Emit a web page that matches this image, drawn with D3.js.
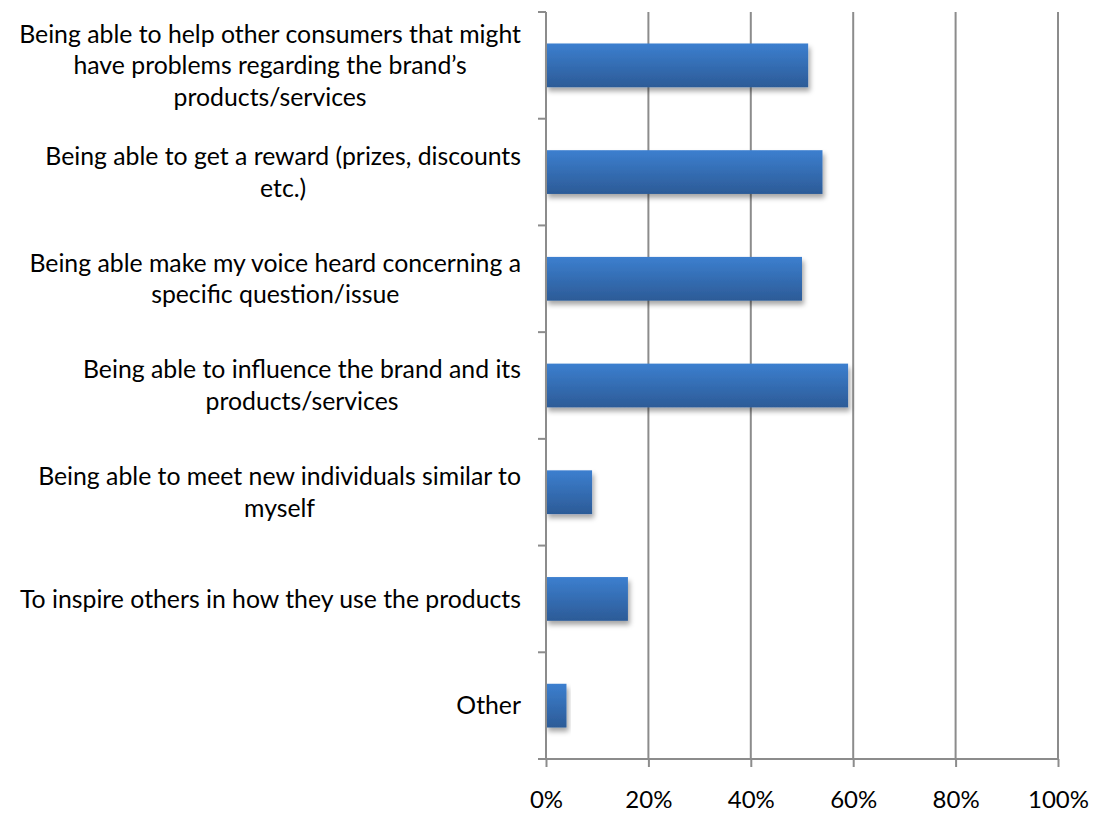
<!DOCTYPE html>
<html>
<head>
<meta charset="utf-8">
<script src="https://cdn.jsdelivr.net/npm/d3@7"></script>
<style>
  body { margin: 0; background: #fff; }
  text { font-family: Lato, "Open Sans", sans-serif; fill: #000; }
</style>
</head>
<body>
<div id="chart"></div>
<script>
// categories, one array of lines per label (top to bottom)
var categories = [
  ["Being able to help other consumers that might", "have problems regarding the brand\u2019s", "products/services"],
  ["Being able to get a reward (prizes, discounts", "etc.)"],
  ["Being able make my voice heard concerning a", "specific question/issue"],
  ["Being able to influence the brand and its", "products/services"],
  ["Being able to meet new individuals similar to", "myself"],
  ["To inspire others in how they use the products"],
  ["Other"]
];
var values = [0.512, 0.54, 0.50, 0.59, 0.09, 0.16, 0.04];
var tickValues = [0, 0.2, 0.4, 0.6, 0.8, 1.0];

var width = 1093, height = 814;
var margin = {top: 12, right: 35, bottom: 55, left: 546};

var svg = d3.select("#chart")
  .append("svg")
  .attr("width", width)
  .attr("height", height);

var defs = svg.append("defs");
var grad = defs.append("linearGradient")
  .attr("id", "barGrad")
  .attr("x1", 0).attr("y1", 0).attr("x2", 0).attr("y2", 1);
grad.append("stop").attr("offset", "0%").attr("stop-color", "#3c7fcf");
grad.append("stop").attr("offset", "100%").attr("stop-color", "#2c5b97");

var shadow = defs.append("filter")
  .attr("id", "shadow")
  .attr("x", "-10%").attr("y", "-20%").attr("width", "130%").attr("height", "160%");
shadow.append("feDropShadow")
  .attr("dx", 2).attr("dy", 4).attr("stdDeviation", 2.5)
  .attr("flood-color", "#000").attr("flood-opacity", 0.35);

var x = d3.scaleLinear()
  .domain([0, 1])
  .range([margin.left, width - margin.right]);

var y = d3.scaleBand()
  .domain(d3.range(categories.length))
  .range([margin.top, height - margin.bottom])
  .paddingInner(0.59)
  .paddingOuter(0.295);

var plotBottom = height - margin.bottom;

// vertical gridlines
svg.append("g")
  .selectAll("line")
  .data(tickValues.slice(1))
  .enter()
  .append("line")
  .attr("x1", function (d) { return x(d); })
  .attr("x2", function (d) { return x(d); })
  .attr("y1", margin.top)
  .attr("y2", plotBottom)
  .attr("stroke", "#8c8c8c")
  .attr("stroke-width", 2);

// bars
svg.append("g")
  .selectAll("rect")
  .data(values)
  .enter()
  .append("rect")
  .attr("x", x(0))
  .attr("y", function (d, i) { return y(i); })
  .attr("width", function (d) { return x(d) - x(0); })
  .attr("height", y.bandwidth())
  .attr("fill", "url(#barGrad)")
  .attr("filter", "url(#shadow)");

// x axis
var xAxis = d3.axisBottom(x)
  .tickValues(tickValues)
  .tickFormat(d3.format(".0%"))
  .tickSize(8)
  .tickPadding(24);
var gx = svg.append("g")
  .attr("transform", "translate(0," + plotBottom + ")")
  .call(xAxis);
gx.select(".domain").attr("stroke", "#8c8c8c").attr("stroke-width", 2)
  .attr("d", "M" + x(0) + ",0H" + x(1));
gx.selectAll(".tick line").attr("stroke", "#8c8c8c").attr("stroke-width", 2);
gx.selectAll(".tick text")
  .attr("font-family", "Lato, sans-serif")
  .attr("font-size", "24px")
  .attr("fill", "#000");

// y axis line and ticks at band boundaries
var bounds = d3.range(categories.length + 1).map(function (i) {
  return margin.top + i * (plotBottom - margin.top) / categories.length;
});
var gy = svg.append("g");
gy.append("line")
  .attr("x1", x(0)).attr("x2", x(0))
  .attr("y1", margin.top).attr("y2", plotBottom)
  .attr("stroke", "#8c8c8c").attr("stroke-width", 2);
gy.selectAll(".ytick")
  .data(bounds)
  .enter()
  .append("line")
  .attr("class", "ytick")
  .attr("x1", x(0) - 8).attr("x2", x(0))
  .attr("y1", function (d) { return d; })
  .attr("y2", function (d) { return d; })
  .attr("stroke", "#8c8c8c").attr("stroke-width", 2);

// category labels: block right-aligned, lines centered within block
var lineH = 31.5;
var labelRight = 521;
categories.forEach(function (lines, i) {
  var cy = y(i) + y.bandwidth() / 2;
  var g = svg.append("g");
  var texts = g.selectAll("text")
    .data(lines)
    .enter()
    .append("text")
    .attr("font-size", "24.8px")
    .attr("text-anchor", "middle")
    .attr("dy", "0.35em")
    .attr("y", function (d, j) { return cy + (j - (lines.length - 1) / 2) * lineH; })
    .text(function (d) { return d; });
  var maxW = d3.max(texts.nodes(), function (n) { return n.getComputedTextLength(); });
  texts.attr("x", labelRight - maxW / 2);
});
</script>
</body>
</html>
